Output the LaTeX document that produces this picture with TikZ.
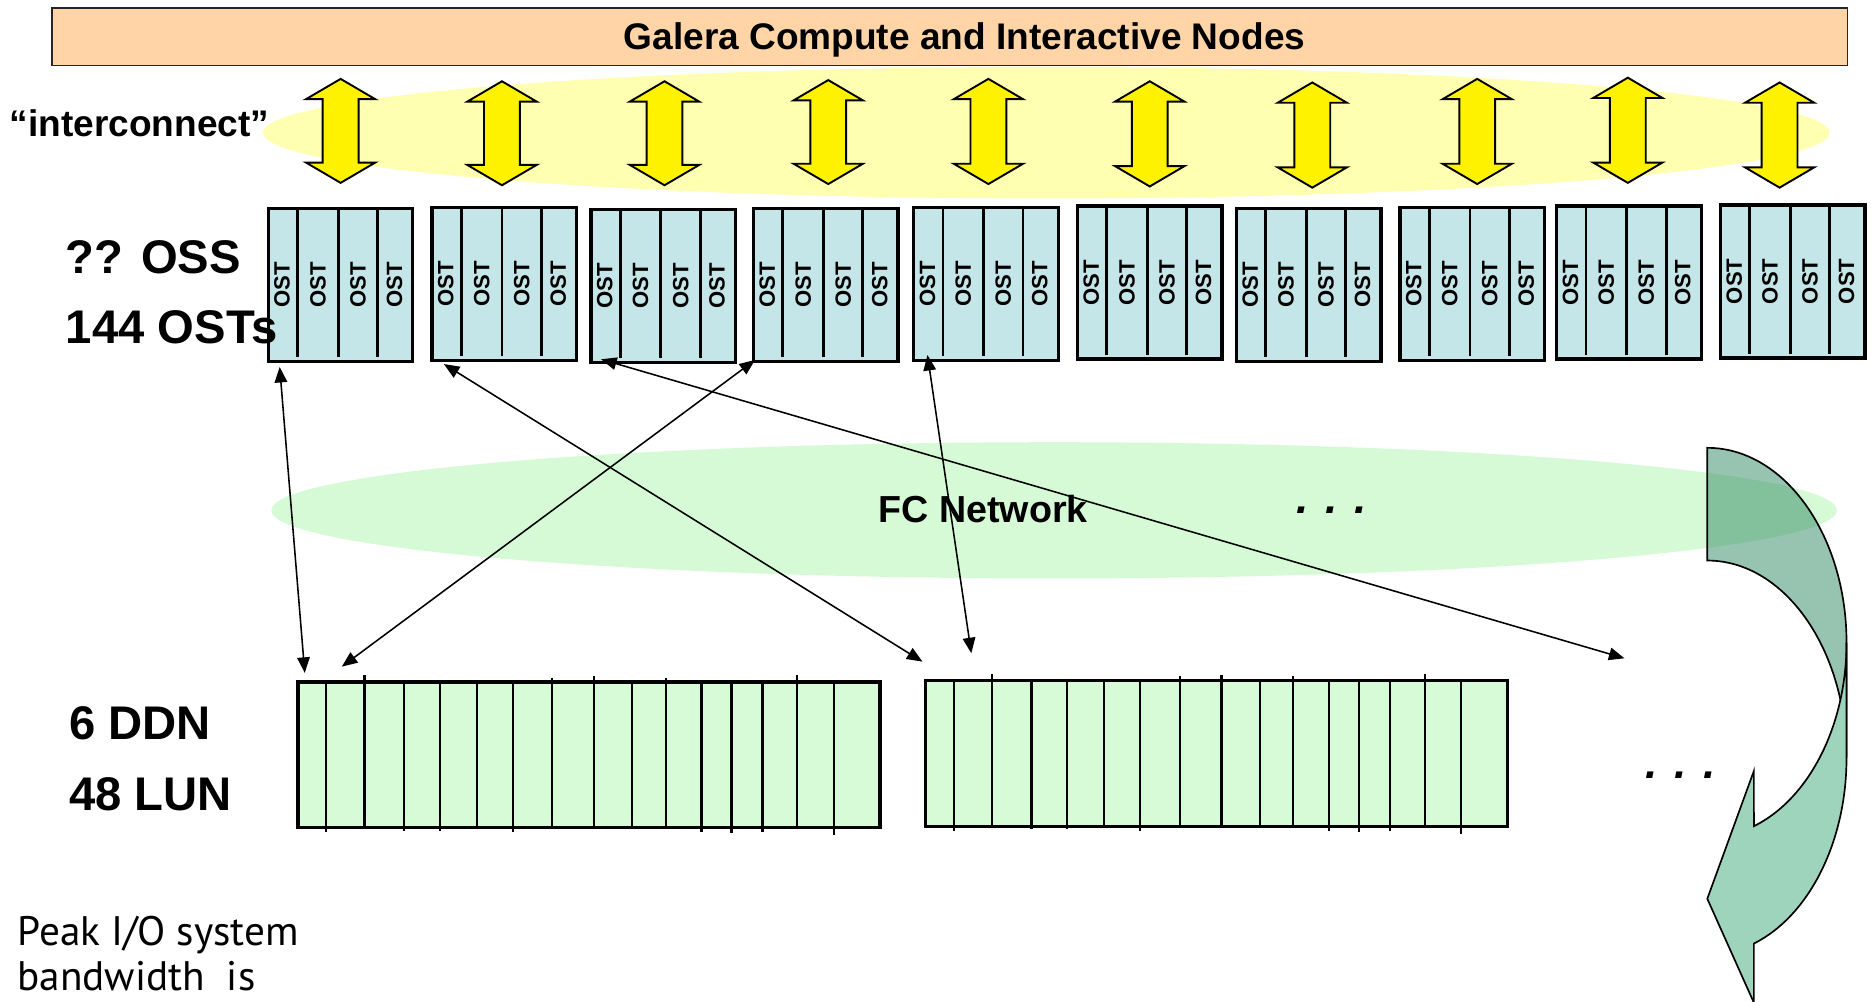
\documentclass[tikz,border=0pt]{standalone}
\usepackage{fontspec}
\setmainfont{Liberation Sans}
\newfontfamily\gillfont{PT Sans}
\usetikzlibrary{arrows.meta,calc}
\definecolor{peach}{RGB}{255,213,168}
\definecolor{paleyellow}{RGB}{255,255,178}
\definecolor{ostblue}{RGB}{197,230,232}
\definecolor{ddngreen}{RGB}{214,251,214}
\definecolor{fcgreen}{RGB}{214,250,214}
\definecolor{seagreen}{RGB}{47,137,97}
\definecolor{frontgreen}{RGB}{158,212,188}
\begin{document}
\begin{tikzpicture}[x=1pt,y=-1pt,
  lbl/.style={inner sep=0pt, font=\bfseries\fontsize{31}{36}\selectfont},
  biglbl/.style={inner sep=0pt, anchor=base west, font=\bfseries\fontsize{39.5}{46}\selectfont},
  ostbox/.style={draw=black, line width=2.8pt, fill=ostblue, minimum width=121pt, minimum height=128pt, inner sep=0pt},
  ostdiv/.style={line width=2.4pt},
  osttext/.style={inner sep=0pt, rotate=90, font=\bfseries\fontsize{18.5}{20}\selectfont},
  ddnbox/.style={draw=black, line width=3pt, fill=ddngreen, minimum width=487pt, minimum height=122pt, inner sep=0pt},
  ddndiv/.style={line width=1.8pt},
  yarrow/.style={draw=black, line width=1.6pt, fill=yellow, line join=miter},
  conn/.style={line width=1.3pt, {Triangle[length=13pt,width=10.5pt]}-{Triangle[length=13pt,width=10.5pt]}},
  dots/.style={inner sep=0pt, anchor=base west, font=\bfseries\itshape\fontsize{37}{44}\selectfont}
]
\useasboundingbox (0,0) rectangle (1568,838);

% header
\node[draw=black!85, line width=1.6pt, fill=peach, anchor=north west, minimum width=1502pt, minimum height=48pt, inner sep=0pt] (hdr) at (43,6) {};
\node[lbl, anchor=base] (title) at (807,41.8) {Galera Compute and Interactive Nodes};

% interconnect ellipse
\fill[paleyellow] (875.5,111) ellipse[x radius=655.5pt, y radius=55pt];
\node[lbl, anchor=base west] (ic) at (8,114.4) {“interconnect”};

% yellow double arrows
\foreach \cx/\ty/\by in {285/66/153, 420/68/155, 556/68/155, 693/67/154, 827/66/154, 962/68/156, 1098/69/157, 1236/66/154, 1362/65/153, 1489/69/157} {
  \draw[yarrow] (\cx,\ty) -- ++(29,17) -- ++(-14,0) -- (\cx+15,\by-17) -- ++(14,0) -- (\cx,\by)
    -- ++(-29,-17) -- ++(14,0) -- (\cx-15,\ty+17) -- ++(-14,0) -- cycle;
}

% FC network ellipse
\fill[fcgreen] (882,427) ellipse[x radius=655pt, y radius=57pt];
\node[lbl, anchor=base west, font=\bfseries\fontsize{31.5}{36}\selectfont] (fc) at (735,437.3) {FC Network};
\node[dots] (dots1) at (1085,430) {. . .};

% OST boxes
\foreach \i/\l/\t in {1/223/173, 2/360/172, 3/493/174, 4/629/173, 5/763/172, 6/900/171, 7/1033/173, 8/1170/172, 9/1301/171, 10/1438/170} {
  \node[ostbox, anchor=north west] (ost\i) at (\l,\t) {};
  \foreach \o in {26,60,93}
    \draw[ostdiv] ($(ost\i.north west)+(\o,0)$) -- ($(ost\i.south west)+(\o,-5)$);
  \foreach \c [count=\k] in {13,43,76.5,107}
    \node[osttext] (ost\i-\k) at ($(ost\i.west)+(\c,0)$) {OST};
}
\node[biglbl] (oss) at (55,229) {?? OSS};
\node[biglbl] (osts) at (55,287) {144 OSTs};

% DDN boxes
\node[ddnbox, anchor=north west] (ddnA) at (248,569) {};
\node[ddnbox, anchor=north west] (ddnB) at (773,568) {};
\foreach \b in {ddnA,ddnB} {
  \foreach \o/\te/\be in {25/0/2, 57/4/0, 90/0/1, 120/0/1, 151/0/0, 181/0/2, 214/2/0, 249/3/0, 281/0/0, 309/2/0, 339/0/2, 364/0/3, 390/0/2, 419/4/0, 449.5/0/5}
    \draw[ddndiv] ($(\b.north west)+(\o,-\te)$) -- ($(\b.south west)+(\o,\be)$);
}
\node[biglbl] (ddn) at (57.6,619) {6 DDN};
\node[biglbl] (lun) at (57.6,678) {48 LUN};
\node[dots] (dots2) at (1377,651) {. . .};

% connectors
\coordinate (c1a) at (234,307);   \coordinate (c1b) at (255,563);
\coordinate (c2a) at (371.4,304.6); \coordinate (c2b) at (771.8,553.6);
\coordinate (c3a) at (502.9,300.6); \coordinate (c3b) at (1359.2,550.8);
\coordinate (c4a) at (631.7,301.2); \coordinate (c4b) at (286,557.8);
\coordinate (c5a) at (776,297);   \coordinate (c5b) at (812.7,546.6);
\draw[conn] (c1a) -- (c1b);
\draw[conn] (c2a) -- (c2b);
\draw[conn] (c3a) -- (c3b);
\draw[conn] (c4a) -- (c4b);
\draw[conn] (c5a) -- (c5b);

% curved arrow
\draw[line width=1.4pt, fill=seagreen, fill opacity=0.5, draw opacity=1]
  (1428.5,374.7) arc[start angle=90, end angle=0, x radius=116.5pt, y radius=163pt]
  -- (1545,634) arc[start angle=0, end angle=90, x radius=116.5pt, y radius=165pt] -- cycle;
\draw[line width=1.4pt, fill=frontgreen]
  (1545,537.7) arc[start angle=0, end angle=-70.44, x radius=116.5pt, y radius=163pt]
  -- (1467.5,645) -- (1428.5,752) -- (1467.5,839) -- (1467.5,789.5)
  arc[start angle=-70.44, end angle=0, x radius=116.5pt, y radius=165pt] -- cycle;

% footnote text
\node[inner sep=0pt, anchor=base west, font=\gillfont\fontsize{34.5}{40}\selectfont] (peak1) at (14.4,791) {Peak I/O system};
\node[inner sep=0pt, anchor=base west, font=\gillfont\fontsize{34.5}{40}\selectfont] (peak2) at (14.4,829) {bandwidth\ \ is};
\end{tikzpicture}
\end{document}
